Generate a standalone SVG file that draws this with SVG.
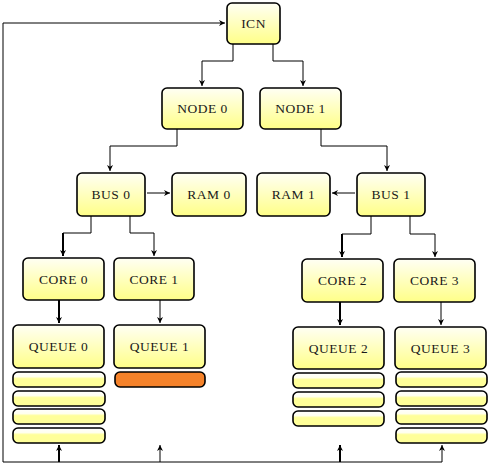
<svg xmlns="http://www.w3.org/2000/svg" width="494" height="467" viewBox="0 0 494 467">
<defs>
<linearGradient id="g" x1="0" y1="0" x2="0" y2="1">
<stop offset="0" stop-color="#fffff4"/>
<stop offset="1" stop-color="#ffff88"/>
</linearGradient>
<linearGradient id="gb" x1="0" y1="0" x2="0" y2="1">
<stop offset="0" stop-color="#ffffff"/>
<stop offset="0.3" stop-color="#ffffee"/>
<stop offset="0.45" stop-color="#ffff99"/>
<stop offset="1" stop-color="#ffff99"/>
</linearGradient>
<marker id="a" viewBox="0 0 10 10" refX="10" refY="5" markerWidth="6" markerHeight="6" markerUnits="userSpaceOnUse" orient="auto">
<path d="M0,0 L10,5 L0,10 L3,5 Z" fill="#000"/>
</marker>
</defs>
<style>
.n{fill:url(#g);stroke:#000;stroke-width:1.6}
.b{fill:url(#gb);stroke:#000;stroke-width:1.6}
.o{fill:#f5822a;stroke:#000;stroke-width:1.6}
.t{font-family:"Liberation Serif","DejaVu Serif",serif;font-size:13.5px;letter-spacing:0.5px;fill:#1a1a1a;text-anchor:middle;dominant-baseline:central}
.c{fill:none;stroke:#000;stroke-width:1}
.k{fill:none;stroke:#000;stroke-width:2}
</style>
<g id="connectors">
<path class="c" d="M3 462 V23 H225" marker-end="url(#a)"/>
<path class="c" d="M233 44 V61 H202 V86" marker-end="url(#a)"/>
<path class="c" d="M273 44 V61 H303 V86" marker-end="url(#a)"/>
<path class="c" d="M177 129 V146 H110 V171" marker-end="url(#a)"/>
<path class="c" d="M321 129 V146 H387 V171" marker-end="url(#a)"/>
<path class="c" d="M147 193 H170" marker-end="url(#a)"/>
<path class="c" d="M355 193 H332" marker-end="url(#a)"/>
<path class="c" d="M91 216 V233 H63"/>
<path class="k" d="M63 233 V256" marker-end="url(#a)"/>
<path class="c" d="M130 216 V233 H154 V256" marker-end="url(#a)"/>
<path class="c" d="M371 216 V234 H342"/>
<path class="k" d="M342 234 V257" marker-end="url(#a)"/>
<path class="c" d="M410 216 V234 H435 V257" marker-end="url(#a)"/>
<path class="k" d="M59 300 V323" marker-end="url(#a)"/>
<path class="c" d="M160 300 V323" marker-end="url(#a)"/>
<path class="k" d="M340 302 V325" marker-end="url(#a)"/>
<path class="c" d="M441 302 V325" marker-end="url(#a)"/>
<path class="c" d="M3 462 H442"/>
<path class="k" d="M59 462 V445" marker-end="url(#a)"/>
<path class="c" d="M160 462 V445" marker-end="url(#a)"/>
<path class="k" d="M340 462 V445" marker-end="url(#a)"/>
<path class="c" d="M442 462 V445" marker-end="url(#a)"/>
</g>
<g id="icn"><rect class="n" x="227" y="3" width="53" height="41" rx="5"/><text class="t" x="253.5" y="23.5">ICN</text></g>
<g id="node0"><rect class="n" x="162" y="88" width="81" height="41" rx="5"/><text class="t" x="202.5" y="108.5">NODE 0</text></g>
<g id="node1"><rect class="n" x="260" y="88" width="81" height="41" rx="5"/><text class="t" x="300.5" y="108.5">NODE 1</text></g>
<g id="bus0"><rect class="n" x="77" y="173" width="68" height="43" rx="5"/><text class="t" x="111" y="194.5">BUS 0</text></g>
<g id="ram0"><rect class="n" x="172" y="173" width="74" height="43" rx="5"/><text class="t" x="209" y="194.5">RAM 0</text></g>
<g id="ram1"><rect class="n" x="257" y="173" width="73" height="43" rx="5"/><text class="t" x="293.5" y="194.5">RAM 1</text></g>
<g id="bus1"><rect class="n" x="357" y="173" width="68" height="43" rx="5"/><text class="t" x="391" y="194.5">BUS 1</text></g>
<g id="core0"><rect class="n" x="23" y="258" width="81" height="42" rx="5"/><text class="t" x="63.5" y="279">CORE 0</text></g>
<g id="core1"><rect class="n" x="114" y="258" width="80" height="42" rx="5"/><text class="t" x="154" y="279">CORE 1</text></g>
<g id="core2"><rect class="n" x="302" y="259" width="81" height="43" rx="5"/><text class="t" x="342.5" y="280.5">CORE 2</text></g>
<g id="core3"><rect class="n" x="394" y="259" width="81" height="43" rx="5"/><text class="t" x="434.5" y="280.5">CORE 3</text></g>
<g id="queue0"><rect class="n" x="13" y="325" width="91" height="43" rx="5"/><text class="t" x="58.5" y="346.5">QUEUE 0</text>
<rect class="b" x="13" y="372" width="92" height="15" rx="5"/>
<rect class="b" x="13" y="391" width="92" height="15" rx="5"/>
<rect class="b" x="13" y="409" width="92" height="15" rx="5"/>
<rect class="b" x="13" y="428" width="92" height="15" rx="5"/>
</g>
<g id="queue1"><rect class="n" x="114" y="325" width="91" height="43" rx="5"/><text class="t" x="159.5" y="346.5">QUEUE 1</text>
<rect class="o" x="115" y="372" width="90" height="15" rx="5"/>
</g>
<g id="queue2"><rect class="n" x="293" y="327" width="91" height="42" rx="5"/><text class="t" x="338.5" y="348">QUEUE 2</text>
<rect class="b" x="293" y="373" width="91" height="15" rx="5"/>
<rect class="b" x="293" y="392" width="91" height="15" rx="5"/>
<rect class="b" x="293" y="411" width="91" height="15" rx="5"/>
</g>
<g id="queue3"><rect class="n" x="395" y="327" width="91" height="42" rx="5"/><text class="t" x="440.5" y="348">QUEUE 3</text>
<rect class="b" x="396" y="372" width="91" height="15" rx="5"/>
<rect class="b" x="396" y="391" width="91" height="15" rx="5"/>
<rect class="b" x="396" y="409" width="91" height="15" rx="5"/>
<rect class="b" x="396" y="428" width="91" height="15" rx="5"/>
</g>
</svg>
